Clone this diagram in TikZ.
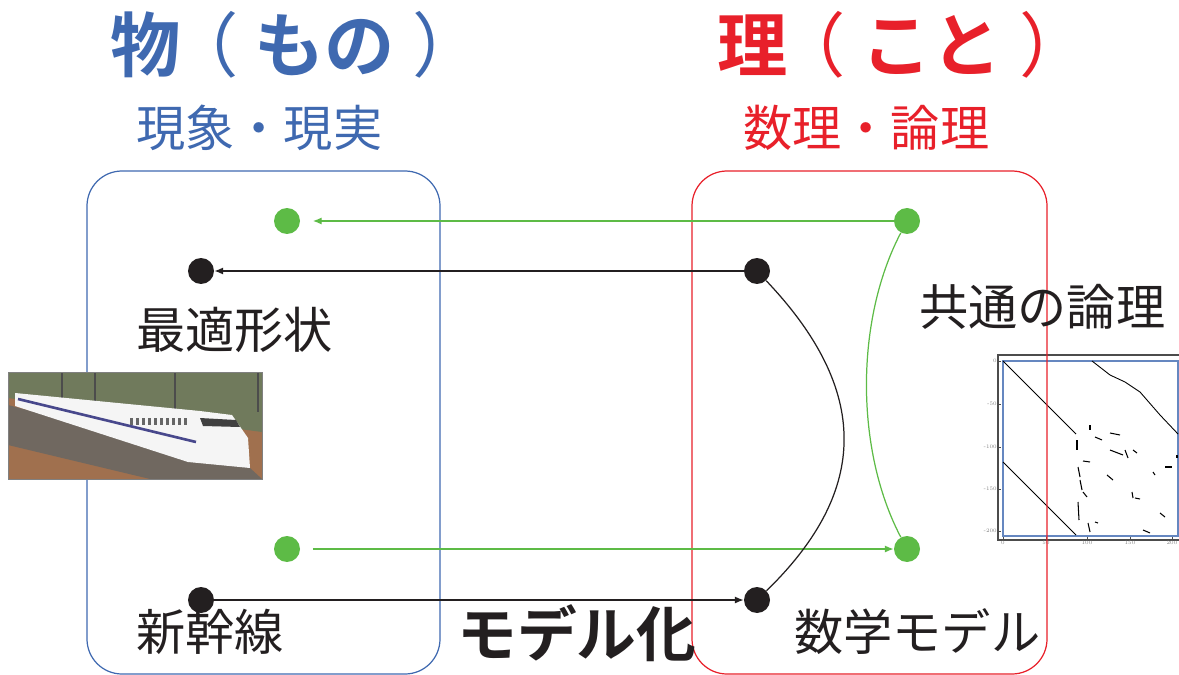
\documentclass[tikz,border=0pt]{standalone}
\usepackage{fontspec}
\newfontfamily\cjk{Noto Sans CJK JP}[BoldFont={Noto Sans CJK JP Bold}]
\usetikzlibrary{arrows.meta}

\definecolor{monoblue}{RGB}{63,105,176}
\definecolor{kotored}{RGB}{232,32,42}
\definecolor{linkgreen}{RGB}{93,187,70}
\definecolor{inkblack}{RGB}{35,31,32}
\definecolor{fieldgreen}{RGB}{112,122,92}
\definecolor{soilbrown}{RGB}{160,112,78}
\definecolor{trackgray}{RGB}{112,104,96}
\definecolor{stripeblue}{RGB}{72,72,140}

\newcommand{\openp}{{\mdseries\hspace{-7pt}（\hspace{9pt}}}
\newcommand{\closep}{{\mdseries\hspace{10pt}）}}

\tikzset{
  heading/.style={font=\cjk\fontsize{40}{44}\selectfont\bfseries, inner sep=0pt, anchor=west},
  subheading/.style={font=\cjk\fontsize{28}{32}\selectfont, inner sep=0pt, anchor=west},
  label/.style={font=\cjk\fontsize{28}{32}\selectfont, text=inkblack, inner sep=0pt, anchor=west},
  frame/.style={rounded corners=0.7cm, line width=0.7pt},
  spot/.style={circle, fill=#1, inner sep=0pt, minimum size=0.52cm},
  link/.style={line width=0.7pt, -{Latex[length=5pt,width=4pt]}},
  ticklabel/.style={font=\fontsize{3}{3}\selectfont, text=gray, inner sep=0.5pt}
}

\begin{document}
\begin{tikzpicture}[x=0.02cm, y=-0.02cm]
  \useasboundingbox (0,0) rectangle (1179,675);

  % Headings
  \node[heading, text=monoblue] (mono) at (110,45) {物\openp もの\closep};
  \node[subheading, text=monoblue] (monosub) at (136,128) {現象・現実};
  \node[heading, text=kotored] (koto) at (717,45) {理\openp こと\closep};
  \node[subheading, text=kotored] (kotosub) at (743,128) {数理・論理};

  % Box of things
  \draw[monoblue, frame] (87,171) rectangle (440,674);

  % Photo of the train
  \fill[soilbrown] (8,372) rectangle (262,479);
  \fill[fieldgreen] (8,372) -- (262,372) -- (262,432) -- (8,398) -- cycle;
  \fill[trackgray] (8,405) -- (250,468) -- (262,479) -- (150,479) -- (8,445) -- cycle;
  \foreach \x in {62,95,175,258}
    \draw[black!70, line width=0.8pt] (\x,372) -- (\x,412);
  \fill[white!92!gray] (15,393) -- (200,411) -- (232,415) -- (248,438) -- (250,468)
    -- (188,462) -- (15,406) -- cycle;
  \draw[stripeblue, line width=1.5pt] (18,399) -- (196,442);
  \fill[black!75] (200,418) -- (236,420) -- (240,427) -- (203,426) -- cycle;
  \foreach \x in {130,136,...,184}
    \fill[black!60] (\x,418) rectangle +(3,7);
  \draw[black!50, line width=0.4pt] (8,372) rectangle (262,479);

  % Sparsity plot
  \draw[black!70, line width=0.8pt] (1179,355) -- (998,355) -- (998,540) -- (1179,540);
  \foreach \y/\t in {361/0,404/-50,447/-100,489/-150,531/-200}{
    \draw[black!70, line width=0.4pt] (998,\y) -- +(3,0);
    \node[ticklabel, anchor=east] (yt\t) at (998,\y) {\t};
  }
  \foreach \x/\t in {1003/0,1046/50,1087/100,1130/150,1172/200}{
    \draw[black!70, line width=0.4pt] (\x,540) -- +(0,-3);
    \node[ticklabel, anchor=north] (xt\t) at (\x,540) {\t};
  }
  \draw[monoblue!80, line width=0.6pt] (1003,361) rectangle (1178,536);
  \draw[black, line width=0.5pt] (1003,361) -- (1076,434);
  \draw[black, line width=0.5pt] (1003,462) -- (1076,535);
  \draw[black, line width=0.5pt] (1092,361) -- (1110,375) -- (1125,382) -- (1140,392)
    -- (1160,415) -- (1178,434);
  \foreach \a/\b/\c/\d in {1077/440/1077/450, 1090/425/1090/430, 1095/437/1102/440,
      1110/433/1120/435, 1110/450/1123/455, 1125/450/1128/458, 1083/461/1090/462,
      1078/467/1080/477, 1080/480/1082/490, 1107/475/1113/480, 1083/492/1087/497,
      1132/492/1133/498, 1135/498/1140/499, 1078/502/1079/520, 1095/522/1098/523,
      1088/523/1090/532, 1165/467/1172/467, 1153/472/1155/475, 1160/513/1165/517,
      1143/530/1150/533, 1133/450/1137/453, 1177/455/1177/458}
    \draw[black, line width=0.6pt] (\a,\b) -- (\c,\d);

  % Box of reasons
  \draw[kotored, frame] (692,171) rectangle (1047,674);

  % Points
  \node[spot=linkgreen] (gmt) at (287,221) {};
  \node[spot=inkblack] (bmt) at (201,271) {};
  \node[spot=linkgreen] (gmb) at (287,549) {};
  \node[spot=inkblack] (bmb) at (201,600) {};
  \node[spot=linkgreen] (gkt) at (907,221) {};
  \node[spot=inkblack] (bkt) at (757,271) {};
  \node[spot=linkgreen] (gkb) at (907,549) {};
  \node[spot=inkblack] (bkb) at (757,600) {};

  % Maps between the two sides
  \draw[link, linkgreen, shorten >=0.25cm] (gkt) -- (gmt);
  \draw[link, inkblack] (bkt) -- (bmt);
  \draw[link, linkgreen, shorten <=0.25cm] (gmb) -- (gkb);
  \draw[link, inkblack] (bmb) -- (bkb);
  \draw[inkblack, line width=0.7pt] (bkt) .. controls (870,390) and (870,490) .. (bkb);
  \draw[linkgreen, line width=0.7pt] (gkt) .. controls (855,320) and (855,450) .. (gkb);

  % Labels
  \node[label] (shape) at (136,330) {最適形状};
  \node[label] (train) at (136,632) {新幹線};
  \node[label, font=\cjk\fontsize{34}{38}\selectfont\bfseries] (model) at (457,633) {モデル化};
  \node[label] (math) at (794,632) {数学モデル};
  \node[label] (logic) at (919,307) {共通の論理};
\end{tikzpicture}
\end{document}
